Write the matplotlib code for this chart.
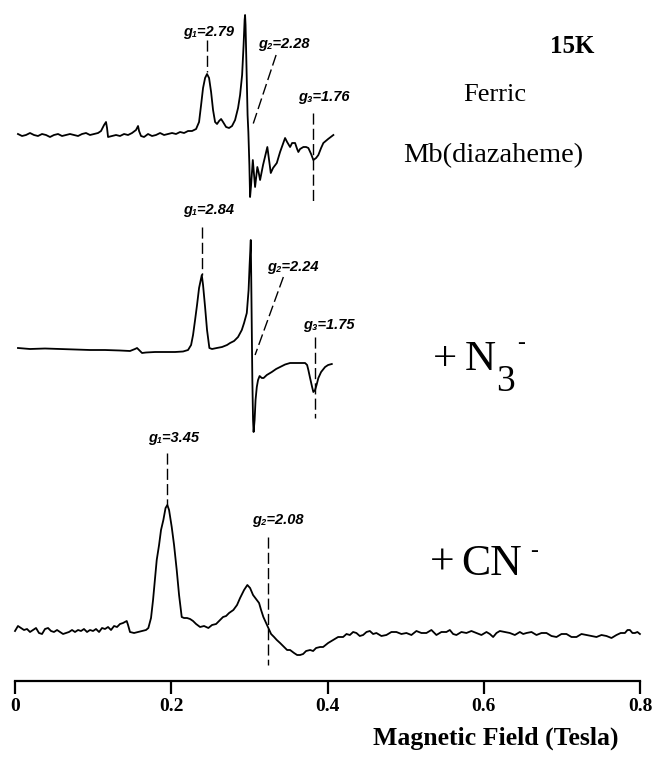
import numpy as np
import matplotlib
matplotlib.use("Agg")
import matplotlib.pyplot as plt

# EPR spectra: field in mT, signal in arbitrary units (0 = baseline)
# Ferric Mb(diazaheme)
field_ferric = [3.8, 9.0, 14.1, 19.2, 24.3, 29.4, 34.6, 39.7, 44.8, 49.9, 55.1, 60.2, 65.3, 70.4,
                75.5, 80.7, 85.8, 90.9, 96.0, 101.2, 106.3, 110.1, 114.0, 116.5, 117.8, 119.1, 124.2,
                129.3, 134.4, 139.6, 144.7, 149.8, 154.9, 157.5, 158.8, 161.3, 165.2, 170.3, 175.4,
                180.5, 185.7, 190.8, 195.9, 201.0, 206.1, 211.3, 216.4, 221.5, 226.6, 231.8, 235.6,
                238.2, 240.7, 243.3, 245.8, 248.4, 251.0, 253.5, 256.1, 258.6, 261.2, 263.8, 266.3,
                270.2, 274.0, 277.8, 281.7, 285.5, 288.1, 290.7, 292.6, 293.9, 294.5, 295.1, 296.4,
                297.7, 298.7, 300.0, 300.9, 302.2, 304.4, 306.0, 307.3, 310.2, 311.8, 313.7, 317.5,
                323.0, 325.2, 327.4, 330.3, 335.1, 339.3, 345.7, 348.3, 352.1, 354.7, 358.5, 361.1,
                362.7, 364.9, 369.1, 372.6, 375.5, 379.0, 381.9, 385.4, 388.3, 391.8, 394.7, 400.8,
                407.5]
signal_ferric = [1, -1, 0, 2, 0, -1, 1, 0, -2, 0, 1, -1, 0, 1,
                 0, -1, 1, 2, 0, 1, 2, 4, 10, 13, 7, -2, -1,
                 0, -1, 1, 0, 2, 5, 9, 4, -1, -2, 1, -1,
                 0, 2, 0, 1, 2, 1, 3, 2, 4, 4, 6, 13,
                 30, 47, 57, 61, 57, 43, 25, 13, 11, 14, 16, 13,
                 8, 7, 9, 15, 27, 40, 60, 90, 115, 120, 110, 65,
                 20, 3, -30, -62, -50, -25, -40, -52, -32, -37, -45, -30,
                 -12, -25, -38, -33, -28, -17, -3, -7, -12, -8, -8, -14,
                 -17, -14, -12, -12, -13, -19, -25, -23, -20, -13, -8, -4,
                 0]

# + N3-
field_azide = [3.8, 19.2, 38.4, 57.6, 76.8, 96.0, 115.2, 134.4, 147.2, 153.6, 156.2, 158.8, 162.6,
               167.7, 179.3, 192.1, 204.9, 215.1, 221.5, 225.4, 227.9, 230.5, 233.0, 235.6, 239.1,
               240.7, 243.3, 245.8, 248.8, 252.2, 258.3, 265.0, 271.4, 275.3, 280.4, 285.5, 290.3,
               293.2, 296.7, 299.0, 300.3, 301.8, 302.4, 303.1, 303.8, 304.7, 305.4, 306.7, 307.9,
               309.5, 311.1, 313.1, 315.9, 318.2, 322.3, 328.7, 334.2, 339.3, 345.7, 352.1, 361.1,
               371.3, 373.9, 375.5, 377.7, 380.3, 381.9, 384.1, 386.0, 388.3, 391.8, 396.9, 400.8,
               405.5]
signal_azide = [2, 1, 1.5, 1, 0.5, 0, 0, -0.5, -1, 1, 2, 0, -3,
                -2.5, -2, -2, -2, -1.5, 0, 5, 15, 30, 45, 62, 75,
                65, 43, 20, 2, 1, 2, 3, 5, 7, 9, 13, 20,
                27, 37, 60, 85, 110, 70, 20, -30, -70, -82, -70, -50,
                -37, -30, -26, -28, -28, -25, -22, -19, -17, -14.5, -13, -13,
                -13, -15, -20, -28, -37, -42, -40, -35, -28, -22, -17, -15,
                -14]

# + CN-
field_cyanide = [0.0, 3.8, 7.7, 11.5, 15.4, 19.2, 23.0, 26.9, 30.7, 34.6, 38.4, 42.3, 46.1, 49.9,
                 53.8, 57.6, 61.5, 65.3, 69.1, 73.0, 76.8, 80.7, 84.5, 88.3, 92.2, 96.0, 99.9, 103.7,
                 107.6, 111.4, 115.2, 119.1, 122.9, 126.8, 130.6, 134.4, 138.3, 143.0, 144.7, 147.2,
                 152.4, 157.5, 162.6, 167.7, 170.7, 174.1, 176.7, 179.3, 181.4, 184.4, 186.9, 189.9,
                 192.7, 195.0, 197.2, 200.6, 203.6, 207.0, 210.0, 213.4, 216.4, 220.2, 224.1, 227.9,
                 231.8, 236.9, 242.0, 247.5, 252.2, 257.4, 262.5, 266.3, 270.2, 274.0, 279.5, 284.2,
                 288.1, 293.2, 297.4, 300.9, 304.7, 309.5, 312.4, 315.0, 317.9, 321.4, 324.4, 327.8,
                 331.6, 335.1, 339.3, 344.4, 348.3, 352.1, 357.2, 361.1, 364.9, 368.8, 372.6, 377.7,
                 381.6, 385.4, 390.5, 394.4, 400.8, 407.2, 413.6, 420.0, 424.3, 428.6, 432.8, 437.0,
                 441.3, 445.6, 449.9, 454.2, 458.4, 462.6, 469.0, 475.4, 481.8, 488.2, 494.6, 501.0,
                 507.4, 513.8, 520.2, 526.6, 533.0, 539.4, 545.8, 552.2, 556.6, 560.8, 565.0, 571.4,
                 577.8, 584.2, 590.6, 597.0, 603.5, 607.8, 612.0, 616.3, 620.6, 627.0, 633.4, 639.8,
                 646.2, 650.5, 654.7, 661.1, 667.5, 673.9, 680.3, 686.7, 693.1, 699.5, 705.9, 712.3,
                 718.7, 725.1, 731.5, 737.9, 744.3, 750.7, 757.1, 763.5, 769.9, 775.3, 780.7, 784.0,
                 787.1, 790.3, 793.5, 796.7, 799.9]
signal_cyanide = [0, 5, 3, 1, 2, -1, 1, 3, -2, -3, 2, 3, 0, -1,
                  1, -1, -3, -2, -1, 1, -1, 1, 0, 2, -1, 1, 0, 2,
                  -1, 3, 2, 4, 1, 5, 4, 7, 8, 10, 6, -1,
                  -2, -1, 0, 1, 3, 13, 31, 53, 71, 86, 101, 111,
                  123, 126, 121, 104, 86, 61, 36, 14, 13, 13, 12, 10,
                  7, 4, 5, 3, 6, 7, 11, 14, 15, 18, 21, 26,
                  33, 41, 46, 43, 36, 31, 28, 21, 14, 8, 3, -3,
                  -6, -9, -12, -16, -19, -19, -22, -24, -24, -23, -20, -19,
                  -20, -17, -16, -16, -12, -9, -6, -6, -3, -4, -1, -2,
                  -5, -4, -1, 0, -3, -2, -5, -4, -1, -1, -3, -2,
                  -4, 0, -2, -2, 1, -4, -1, -1, 1, -3, -4, -1,
                  -2, 0, -2, -4, -1, -3, -6, -2, 0, -1, -2, -4,
                  -1, -3, -2, -1, -4, -2, -2, -5, -6, -3, -3, -6,
                  -6, -3, -4, -5, -6, -4, -5, -7, -4, -2, -2, 1,
                  1, -2, -2, -1, -3]

# baselines of the three stacked spectra (same arbitrary units)
offsets = [546, 331, 50]

# g-value markers: label, field at both ends (mT), height at both ends
g_labels = ["g\u2081=2.79", "g\u2082=2.28", "g\u2083=1.76",
            "g\u2081=2.84", "g\u2082=2.24", "g\u2083=1.75",
            "g\u2081=3.45", "g\u2082=2.08"]
g_field_top = [245.8, 334.2, 381.6, 239.1, 343.5, 384.1, 195.0, 323.9]
g_field_bot = [245.8, 303.5, 381.6, 239.1, 307.3, 384.1, 195.0, 323.9]
g_y_top = [641, 626, 568, 454, 404, 344, 228, 144]
g_y_bot = [609, 554, 479, 406, 326, 263, 176, 16]
# where the label sits (pixel position in the original figure)
g_label_px = [(183, 32), (258, 44), (298, 97), (183, 210), (267, 267), (303, 325),
              (148, 438), (252, 520)]

W, H = 653, 757
fig = plt.figure(figsize=(W / 100, H / 100), dpi=100)
ax = fig.add_axes([15 / W, (H - 681) / H, 625 / W, 681 / H])
ax.set_xlim(0, 0.8)
ax.set_ylim(0, 681)


def px(x, y):
    # original-picture pixel -> figure fraction
    return x / W, 1 - y / H


spectra = [(field_ferric, signal_ferric), (field_azide, signal_azide), (field_cyanide, signal_cyanide)]
for (f, s), off in zip(spectra, offsets):
    ax.plot(np.array(f) / 1000, np.array(s) + off, color="black", lw=1.3, clip_on=False)

for i in range(len(g_labels)):
    ax.plot([g_field_top[i] / 1000, g_field_bot[i] / 1000], [g_y_top[i], g_y_bot[i]],
            color="black", lw=1.0, dashes=(8, 3), clip_on=False)
    fig.text(*px(*g_label_px[i]), g_labels[i], fontsize=10.5, fontweight="bold", style="italic",
             family=["Liberation Sans", "DejaVu Sans"], va="center", ha="left")

# axis
for sp in ["top", "left", "right"]:
    ax.spines[sp].set_visible(False)
ax.spines["bottom"].set_linewidth(1.6)
ax.set_yticks([])
ax.set_xticks([0, 0.2, 0.4, 0.6, 0.8])
ax.set_xticklabels(["0", "0.2", "0.4", "0.6", "0.8"], fontfamily="Liberation Serif",
                   fontweight="bold", fontsize=14)
ax.tick_params(axis="x", direction="out", length=9, width=1.6, pad=3)
ax.patch.set_visible(False)

serif = "Liberation Serif"
fig.text(*px(496, 745), "Magnetic Field (Tesla)", family=serif, fontweight="bold",
         fontsize=18.5, ha="center", va="baseline")

# annotations on the right
fig.text(*px(550, 53), "15K", family=serif, fontweight="bold", fontsize=18, va="baseline")
fig.text(*px(463, 101), "Ferric", family=serif, fontsize=19, va="baseline")
fig.text(*px(403, 162), "Mb(diazaheme)", family=serif, fontsize=20.5, va="baseline")

# +N3-  (pieces placed separately to follow the original spacing)
fig.text(*px(433, 370), "+", family=serif, fontsize=31, va="baseline")
fig.text(*px(465, 370), "N", family=serif, fontsize=31, va="baseline")
fig.text(*px(496, 391), "3", family=serif, fontsize=27, va="baseline")
fig.text(*px(517, 344), "-", family=serif, fontsize=17, va="center")

# +CN-
fig.text(*px(430, 575), "+", family=serif, fontsize=31.5, va="baseline")
fig.text(*px(461, 575), "CN", family=serif, fontsize=31.5, va="baseline")
fig.text(*px(530, 552), "-", family=serif, fontsize=17, va="center")

fig.savefig("out.png", dpi=100)
